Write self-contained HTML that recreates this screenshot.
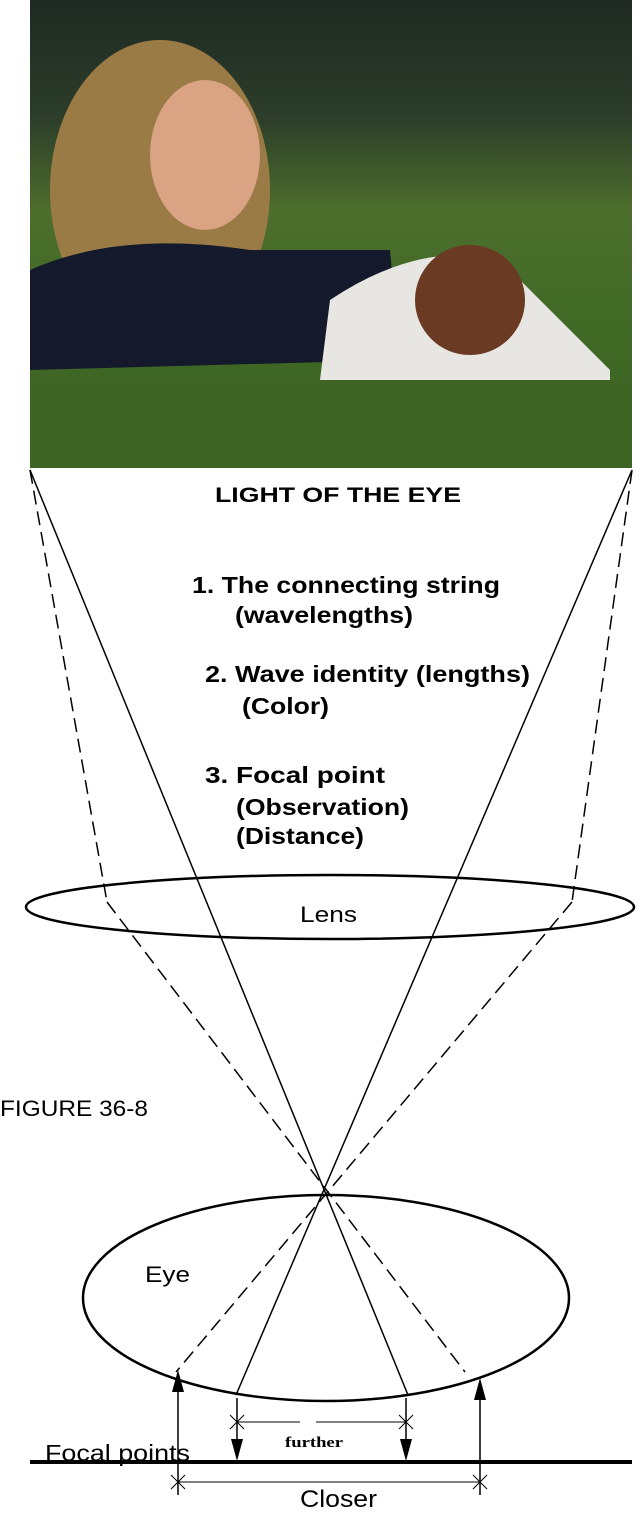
<!DOCTYPE html>
<html><head><style>
body{margin:0;background:#fff;}
svg{display:block}
text{font-family:"Liberation Sans",sans-serif}
</style></head><body>
<svg width="640" height="1515" viewBox="0 0 640 1515">
<defs>
<linearGradient id="bg" x1="0" y1="0" x2="0" y2="1">
<stop offset="0" stop-color="#1e2a22"/><stop offset="0.25" stop-color="#2c3d2a"/>
<stop offset="0.45" stop-color="#4d6e2c"/><stop offset="0.7" stop-color="#3f6a25"/><stop offset="1" stop-color="#3c5e22"/>
</linearGradient>
</defs>
<rect x="30" y="0" width="602" height="468" fill="url(#bg)"/>
<ellipse cx="160" cy="190" rx="110" ry="150" fill="#9a7a45"/>
<ellipse cx="205" cy="155" rx="55" ry="75" fill="#d9a384"/>
<path d="M30 270 Q120 230 250 250 Q330 250 390 250 L400 360 L30 370 Z" fill="#141a2c"/>
<path d="M330 300 Q420 240 500 260 Q560 320 610 370 L610 385 L320 380 Z" fill="#e8e6e2"/>
<ellipse cx="470" cy="300" rx="55" ry="55" fill="#6a3a22"/>
<rect x="30" y="380" width="602" height="88" fill="#3e6524"/>
<text x="215" y="502" font-size="21" font-weight="bold" textLength="246" lengthAdjust="spacingAndGlyphs">LIGHT OF THE EYE</text>
<g font-size="23" font-weight="bold">
<text x="192" y="593" textLength="308" lengthAdjust="spacingAndGlyphs">1. The connecting string</text>
<text x="235" y="623" textLength="178" lengthAdjust="spacingAndGlyphs">(wavelengths)</text>
<text x="205" y="682" textLength="325" lengthAdjust="spacingAndGlyphs">2.  Wave identity (lengths)</text>
<text x="242" y="714" textLength="87" lengthAdjust="spacingAndGlyphs">(Color)</text>
<text x="205" y="783" textLength="180" lengthAdjust="spacingAndGlyphs">3.  Focal point</text>
<text x="236" y="815" textLength="173" lengthAdjust="spacingAndGlyphs">(Observation)</text>
<text x="236" y="844" textLength="128" lengthAdjust="spacingAndGlyphs">(Distance)</text>
</g>
<g stroke="#000" stroke-width="1.5" fill="none">
<line x1="30" y1="470" x2="408" y2="1395"/>
<line x1="632" y1="470" x2="236" y2="1395"/>
<g stroke-dasharray="14,7">
<line x1="30" y1="470" x2="107" y2="902"/>
<line x1="107" y1="902" x2="465" y2="1372"/>
<line x1="632" y1="470" x2="572" y2="902"/>
<line x1="572" y1="902" x2="176" y2="1372"/>
</g>
<ellipse cx="330" cy="907" rx="304" ry="32" stroke-width="2.5"/>
<ellipse cx="326" cy="1298" rx="243" ry="103" stroke-width="2.5"/>
<line x1="178" y1="1390" x2="178" y2="1495"/>
<line x1="480" y1="1400" x2="480" y2="1495"/>
<line x1="237" y1="1398" x2="237" y2="1440"/>
<line x1="406" y1="1398" x2="406" y2="1440"/>
<line x1="237" y1="1422" x2="300" y2="1422" stroke-width="1"/>
<line x1="316" y1="1422" x2="406" y2="1422" stroke-width="1"/>
<line x1="178" y1="1482" x2="480" y2="1482" stroke-width="1"/>
<path d="M230 1415l14 14M244 1415l-14 14M399 1415l14 14M413 1415l-14 14M171 1475l14 14M185 1475l-14 14M473 1475l14 14M487 1475l-14 14" stroke-width="1"/>
</g>
<line x1="30" y1="1462" x2="632" y2="1462" stroke="#000" stroke-width="4"/>
<g fill="#000">
<polygon points="178,1370 172,1392 184,1392"/>
<polygon points="480,1378 474,1400 486,1400"/>
<polygon points="237,1461 231,1439 243,1439"/>
<polygon points="406,1461 400,1439 412,1439"/>
</g>
<text x="300" y="922" font-size="22" textLength="57" lengthAdjust="spacingAndGlyphs">Lens</text>
<text x="145" y="1282" font-size="22" textLength="45" lengthAdjust="spacingAndGlyphs">Eye</text>
<text x="0" y="1116" font-size="22" textLength="148" lengthAdjust="spacingAndGlyphs">FIGURE 36-8</text>
<text x="45" y="1461" font-size="23" textLength="145" lengthAdjust="spacingAndGlyphs">Focal points</text>
<text x="285" y="1447" font-size="15" font-weight="bold" textLength="58" lengthAdjust="spacingAndGlyphs" style="font-family:'Liberation Serif',serif">further</text>
<text x="300" y="1507" font-size="24" textLength="77" lengthAdjust="spacingAndGlyphs">Closer</text>
</svg>
</body></html>
